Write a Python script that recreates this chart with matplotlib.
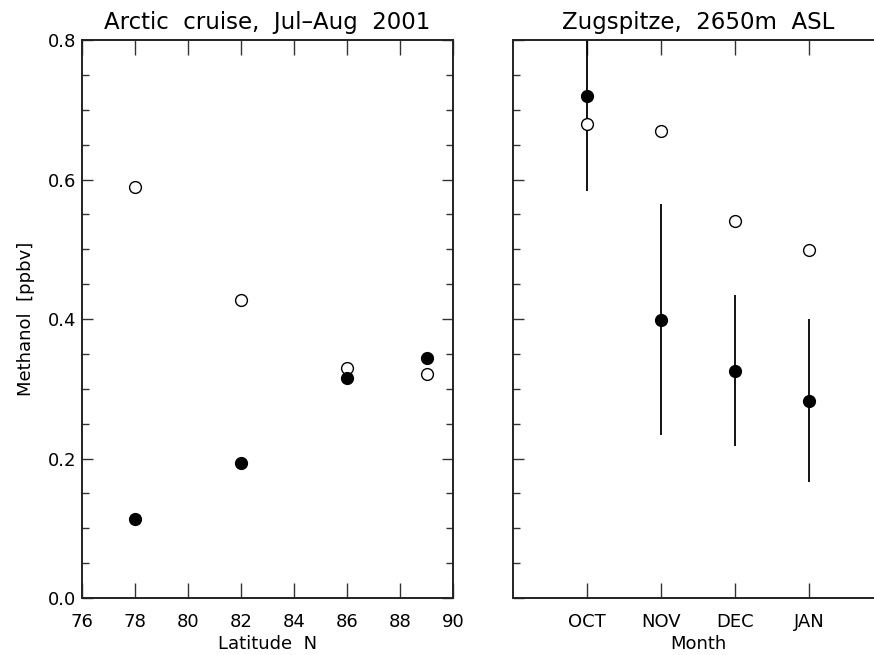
import numpy as np
from matplotlib import pyplot as plt

# Arctic cruise, methanol vs latitude
lat = [78, 82, 86, 89]
arctic_open = [0.589, 0.427, 0.330, 0.321]
arctic_fill = [0.113, 0.194, 0.315, 0.344]

# Zugspitze, monthly
months = ['OCT', 'NOV', 'DEC', 'JAN']
zug_open = [0.680, 0.670, 0.540, 0.499]
zug_fill = [0.720, 0.399, 0.326, 0.283]
zug_err = [0.136, 0.166, 0.108, 0.117]

plt.rcParams['font.family'] = 'DejaVu Sans'
fig = plt.figure(figsize=(8.74, 6.55), dpi=100)

H = 655.0
W = 874.0
bot = (H - 598) / H
top = (H - 40) / H
ax1 = fig.add_axes([82 / W, bot, (453 - 82) / W, top - bot])
ax2 = fig.add_axes([513 / W, bot, (883 - 513) / W, top - bot])

ms = 8.5
ax1.plot(lat, arctic_open, 'o', mfc='white', mec='black', mew=1.0, ms=ms, ls='none')
ax1.plot(lat, arctic_fill, 'o', color='black', ms=ms, ls='none')
ax1.set_xlim(76, 90)
ax1.set_ylim(0, 0.8)
ax1.set_xticks(np.arange(76, 91, 2))
ax1.set_yticks([0.0, 0.2, 0.4, 0.6, 0.8])
ax1.set_yticklabels(['0.0', '0.2', '0.4', '0.6', '0.8'])
ax1.set_title('Arctic  cruise,  Jul\u2013Aug  2001', fontsize=16.5, pad=8)
ax1.set_xlabel('Latitude  N', fontsize=13, labelpad=3)
ax1.set_ylabel('Methanol  [ppbv]', fontsize=13, labelpad=9)

xm = np.arange(1, len(months) + 1)
ax2.errorbar(xm, zug_fill, yerr=zug_err, fmt='none', ecolor='black', elinewidth=1.3, capsize=0)
ax2.plot(xm, zug_open, 'o', mfc='white', mec='black', mew=1.0, ms=ms, ls='none')
ax2.plot(xm, zug_fill, 'o', color='black', ms=ms, ls='none')
ax2.set_xlim(0, 5)
ax2.set_ylim(0, 0.8)
ax2.set_xticks(xm)
ax2.set_xticklabels(months)
ax2.set_yticks([0.0, 0.2, 0.4, 0.6, 0.8])
ax2.set_yticklabels([])
ax2.set_title('Zugspitze,  2650m  ASL', fontsize=16.5, pad=8)
ax2.set_xlabel('Month', fontsize=13, labelpad=3)

for ax in (ax1, ax2):
    ax.yaxis.set_minor_locator(plt.MultipleLocator(0.05))
    ax.tick_params(which='both', direction='in', top=True, right=True, labelsize=13, width=1.0, color='#333333')
    ax.tick_params(axis='x', which='major', length=11, pad=11)
    ax.tick_params(axis='y', which='major', length=8, pad=4)
    ax.tick_params(axis='y', which='minor', length=5)
    for s in ax.spines.values():
        s.set_linewidth(1.4)
        s.set_color('#222222')
ax2.tick_params(which='both', right=False)
ax2.spines['right'].set_visible(False)

plt.savefig('out.png', dpi=100)
